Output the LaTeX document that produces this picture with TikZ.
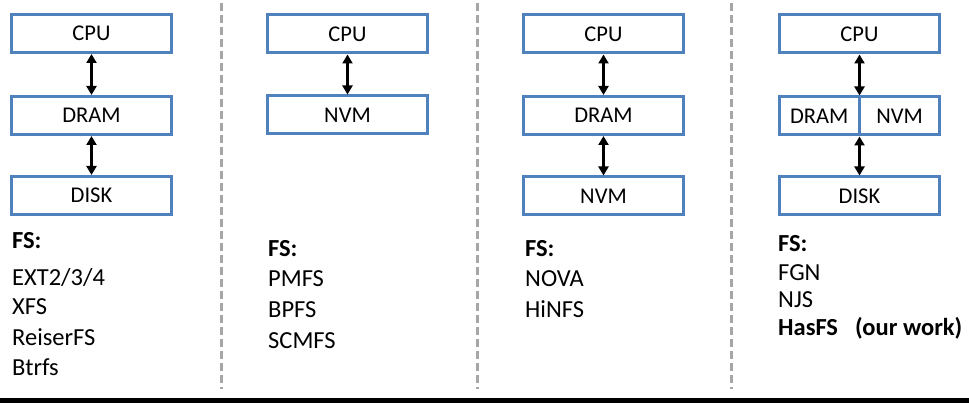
\documentclass[tikz,border=0pt]{standalone}
\usepackage{fontspec}
\setmainfont{Carlito}
\usetikzlibrary{arrows.meta}
\definecolor{boxblue}{RGB}{79,129,189}
\definecolor{sepgray}{RGB}{166,166,166}
\begin{document}
\begin{tikzpicture}[x=1pt,y=-1pt,
  membox/.style={draw=boxblue,line width=3pt,minimum width=160pt,minimum height=38pt,inner sep=0pt,font=\fontsize{22.5}{26}\selectfont},
  halflabel/.style={inner sep=0pt,minimum width=80pt,minimum height=38pt,font=\fontsize{22.5}{26}\selectfont},
  link/.style={line width=2.5pt,{Triangle[length=9pt,width=10pt]}-{Triangle[length=9pt,width=10pt]}},
  sep/.style={draw=sepgray,line width=3pt,dash pattern=on 8pt off 4pt},
  fslist/.style={anchor=base west,inner sep=0pt,font=\fontsize{24.5}{28}\selectfont}]
\useasboundingbox (0,0) rectangle (969,403);
\fill[white] (0,0) rectangle (969,403);
% panel 1
\node[membox] (c1) at (91.5,33.5) {CPU};
\node[membox] (d1) at (91.5,115.5) {DRAM};
\node[membox] (k1) at (91.5,195.5) {DISK};
\draw[link] (c1.south) -- (d1.north);
\draw[link] (d1.south) -- (k1.north);
\node[fslist] (f1) at (12,249) {\textbf{FS:}};
\node[fslist] (f1a) at (12,286) {EXT2/3/4};
\node[fslist] (f1b) at (12,315) {XFS};
\node[fslist] (f1c) at (12,345) {ReiserFS};
\node[fslist] (f1d) at (12,375) {Btrfs};
% panel 2
\node[membox] (c2) at (347.5,34) {CPU};
\node[membox] (n2) at (347.5,115) {NVM};
\draw[link] (c2.south) -- (n2.north);
\node[fslist] (f2) at (268,257) {\textbf{FS:}};
\node[fslist] (f2a) at (268,287) {PMFS};
\node[fslist] (f2b) at (268,317) {BPFS};
\node[fslist] (f2c) at (268,348) {SCMFS};
% panel 3
\node[membox] (c3) at (603.5,34) {CPU};
\node[membox] (d3) at (603.5,115.5) {DRAM};
\node[membox] (n3) at (603.5,196) {NVM};
\draw[link] (c3.south) -- (d3.north);
\draw[link] (d3.south) -- (n3.north);
\node[fslist] (f3) at (525,257) {\textbf{FS:}};
\node[fslist] (f3a) at (525,287) {NOVA};
\node[fslist] (f3b) at (525,317) {HiNFS};
% panel 4
\node[membox] (c4) at (859.5,34) {CPU};
\node[membox] (m4) at (859.5,116) {};
\node[halflabel,anchor=east] (d4) at (m4.center) {DRAM};
\node[halflabel,anchor=west] (v4) at (m4.center) {NVM};
\draw[draw=boxblue,line width=3pt] (m4.north) -- (m4.south);
\node[membox] (k4) at (859.5,196) {DISK};
\draw[link] (c4.south) -- (m4.north);
\draw[link] (m4.south) -- (k4.north);
\node[fslist] (f4) at (778,252) {\textbf{FS:}};
\node[fslist] (f4a) at (778,281) {FGN};
\node[fslist] (f4b) at (778,308) {NJS};
\node[fslist] (f4c) at (778,335) {\textbf{HasFS\hspace{0.7em}(our work)}};
% separators
\coordinate (s1t) at (221,3); \coordinate (s1b) at (221,389);
\coordinate (s2t) at (477,3); \coordinate (s2b) at (477,389);
\coordinate (s3t) at (731,3); \coordinate (s3b) at (731,389);
\draw[sep] (s1t) -- (s1b);
\draw[sep] (s2t) -- (s2b);
\draw[sep] (s3t) -- (s3b);
% bottom rule
\coordinate (bl) at (0,400.5); \coordinate (br) at (969,400.5);
\draw[line width=5pt] (bl) -- (br);
\end{tikzpicture}
\end{document}
